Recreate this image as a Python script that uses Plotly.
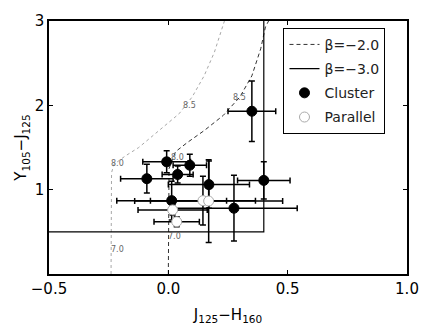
import plotly.graph_objects as go

# Cluster (filled) points
cl_x = [0.35, 0.40, 0.275, 0.17, -0.09, -0.007, 0.09, 0.039, 0.014]
cl_y = [1.93, 1.11, 0.78, 1.06, 1.13, 1.33, 1.29, 1.18, 0.87]
cl_xerr = [0.10, 0.11, 0.265, 0.17, 0.11, 0.10, 0.07, 0.065, 0.23]
cl_yerr = [0.36, 0.22, 0.39, 0.28, 0.17, 0.13, 0.13, 0.10, 0.23]

# Parallel (open) points
pa_x = [0.145, 0.169, 0.018, 0.035]
pa_y = [0.87, 0.865, 0.76, 0.62]
pa_xerr = [0.22, 0.31, 0.145, 0.095]
pa_yerr = [0.29, 0.49, 0.06, 0.06]

# Model tracks
dot_x = [-0.24, -0.24, -0.238, -0.228, -0.18, -0.124, -0.05, 0.045, 0.10, 0.15, 0.193, 0.235]
dot_y = [0.0, 0.9, 1.2, 1.3, 1.4, 1.5, 1.68, 1.9, 2.1, 2.35, 2.63, 3.0]
dash_x = [0.0, 0.0, 0.003, 0.03, 0.08, 0.15, 0.23, 0.30, 0.35, 0.387, 0.407, 0.42]
dash_y = [0.0, 1.0, 1.25, 1.45, 1.56, 1.7, 1.88, 2.1, 2.35, 2.67, 2.93, 3.0]

# Track age labels
dot_lab_x = [-0.215, -0.215, 0.09]
dot_lab_y = [0.29, 1.31, 2.0]
dash_lab_x = [0.025, 0.04, 0.30]
dash_lab_y = [0.45, 1.38, 2.09]
dot_lab = ["7.0", "8.0", "8.5"]
dash_lab = ["7.0", "8.0", "8.5"]

# Selection box
box_x = [-0.5, 0.4, 0.4]
box_y = [0.5, 0.5, 3.0]

fig = go.Figure()

fig.add_trace(go.Scatter(x=dot_x, y=dot_y, mode="lines",
                         line=dict(color="#a8a8a8", width=1, dash="dot"),
                         showlegend=False, hoverinfo="skip"))
fig.add_trace(go.Scatter(x=dash_x, y=dash_y, mode="lines",
                         line=dict(color="#333333", width=1, dash="4px,3px"),
                         name="β=−2.0", legendgroup="a"))
fig.add_trace(go.Scatter(x=box_x, y=box_y, mode="lines",
                         line=dict(color="black", width=1.2),
                         name="β=−3.0", legendgroup="b"))

for lx, ly, lt in zip(dot_lab_x + dash_lab_x, dot_lab_y + dash_lab_y, dot_lab + dash_lab):
    fig.add_annotation(x=lx, y=ly, text=lt, showarrow=False,
                       font=dict(size=8, color="#666666", family="DejaVu Sans"))

fig.add_trace(go.Scatter(
    x=cl_x, y=cl_y, mode="markers", name="Cluster", legendgroup="c",
    marker=dict(color="black", size=10, line=dict(color="black", width=1)),
    error_x=dict(type="data", array=cl_xerr, color="black", thickness=1.5, width=3),
    error_y=dict(type="data", array=cl_yerr, color="black", thickness=1.5, width=3)))

fig.add_trace(go.Scatter(
    x=pa_x, y=pa_y, mode="markers", name="Parallel", legendgroup="d",
    marker=dict(color="white", size=10, line=dict(color="#aaaaaa", width=1)),
    error_x=dict(type="data", array=pa_xerr, color="black", thickness=1.5, width=3),
    error_y=dict(type="data", array=pa_yerr, color="black", thickness=1.5, width=3)))

axis_common = dict(showgrid=False, zeroline=False, showline=True, linecolor="black",
                   linewidth=1.5, mirror="ticks", ticks="inside", ticklen=4,
                   tickcolor="black", tickfont=dict(family="DejaVu Sans", size=15, color="black"))

fig.update_xaxes(range=[-0.5, 1.0], tickvals=[-0.5, 0.0, 0.5, 1.0],
                 ticktext=["−0.5", "0.0", "0.5", "1.0"],
                 title=dict(text="J<sub>125</sub>−H<sub>160</sub>", standoff=13,
                            font=dict(family="DejaVu Sans", size=15, color="black")),
                 **axis_common)
fig.update_yaxes(range=[0, 3], tickvals=[1, 2, 3], ticktext=["1", "2", "3"],
                 title=dict(text="Y<sub>105</sub>−J<sub>125</sub>", standoff=4,
                            font=dict(family="DejaVu Sans", size=15, color="black")),
                 **axis_common)

fig.update_layout(
    width=431, height=333,
    margin=dict(l=49, r=20, t=20, b=51),
    plot_bgcolor="white", paper_bgcolor="white",
    font=dict(family="DejaVu Sans", color="black"),
    legend=dict(x=0.655, y=0.973, xanchor="left", yanchor="top",
                bgcolor="white", bordercolor="black", borderwidth=1,
                font=dict(family="DejaVu Sans", size=14, color="#222222"),
                traceorder="grouped", tracegroupgap=3),
)

fig.write_html("out.html")
